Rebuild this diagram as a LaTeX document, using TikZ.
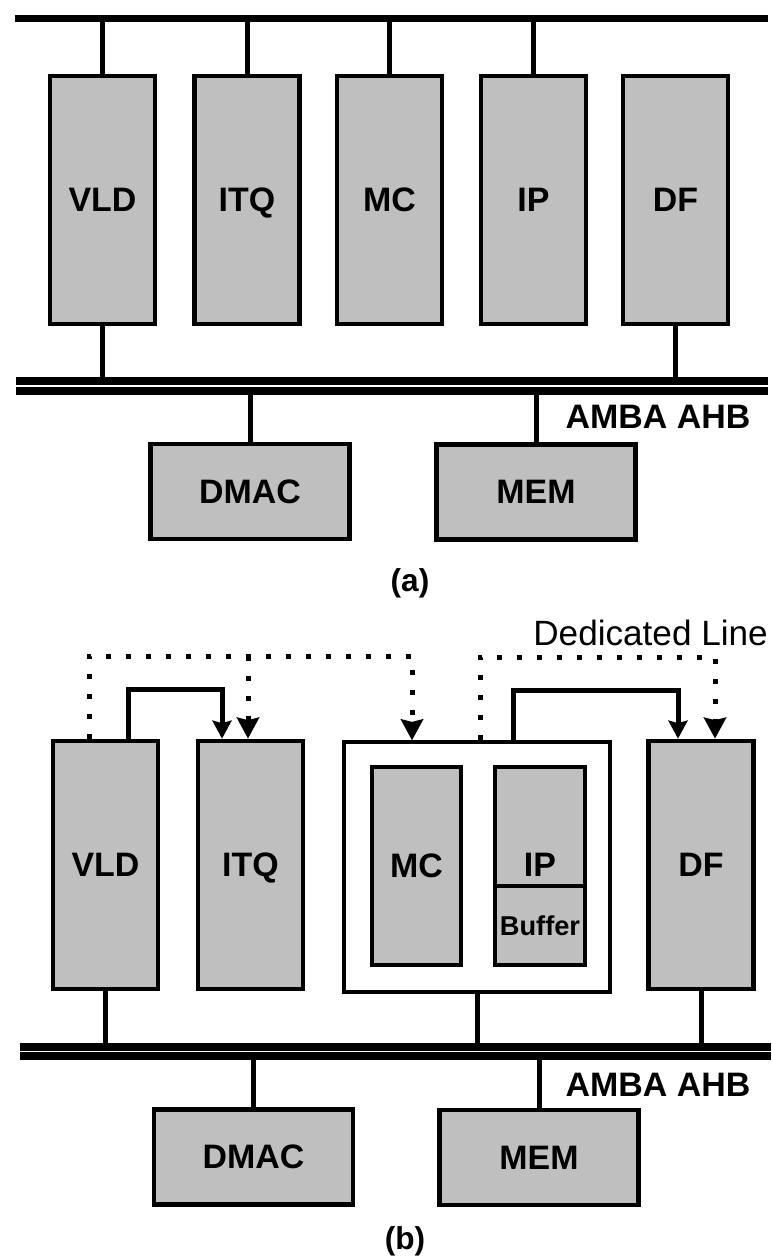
\documentclass[tikz,border=0pt]{standalone}
\usepackage{fontspec}
\setmainfont{Liberation Sans}
\usetikzlibrary{arrows.meta, positioning}

\begin{document}
\begin{tikzpicture}[x=0.02cm, y=-0.02cm,
    blk/.style={draw, line width=0.095cm, fill=black!25, minimum width=2.1cm, minimum height=4.96cm, inner sep=0pt, text depth=0pt, font=\fontsize{19.3}{20}\selectfont\bfseries},
    memblk/.style={blk, minimum width=3.98cm, minimum height=1.9cm},
    inblk/.style={blk, line width=0.07cm, minimum width=1.8cm},
    bus/.style={line width=0.16cm, double=white, double distance=0.03cm},
    topbus/.style={line width=0.14cm},
    stub/.style={line width=0.1cm},
    arr/.style={-{Stealth[length=0.36cm, width=0.38cm, inset=0.05cm]}, line width=0.1cm},
    dotarr/.style={-{Stealth[length=0.42cm, width=0.44cm, inset=0.05cm]}, line width=0.1cm, dash pattern=on 0.1cm off 0.3cm},
    lbl/.style={font=\fontsize{19.3}{20}\selectfont\bfseries, inner sep=0pt, text depth=0pt},
]
    \useasboundingbox (0,0) rectangle (771,1256);

    % (a) shared bus
    \node[blk] (vldA) at (102.5,200) {VLD};
    \node[blk] (itqA) at (247,200) {ITQ};
    \node[blk] (mcA) at (389.5,200) {MC};
    \node[blk] (ipA) at (533.5,200) {IP};
    \node[blk] (dfA) at (675.5,200) {DF};
    \node[memblk] (dmacA) at (250,491.5) {DMAC};
    \node[memblk] (memA) at (536,492) {MEM};

    \coordinate (topL) at (15,19);
    \coordinate (topR) at (768,19);
    \coordinate (busAL) at (16,386);
    \coordinate (busAR) at (768,386);

    \draw[stub] (vldA.north) -- (vldA.north |- topL);
    \draw[stub] (itqA.north) -- (itqA.north |- topL);
    \draw[stub] (mcA.north) -- (mcA.north |- topL);
    \draw[stub] (ipA.north) -- (ipA.north |- topL);
    \draw[topbus] (topL) -- (topR);

    \draw[stub] (vldA.south) -- (vldA.south |- busAL);
    \draw[stub] (dfA.south) -- (dfA.south |- busAL);
    \draw[stub] (dmacA.north) -- (dmacA.north |- busAL);
    \draw[stub] (memA.north) -- (memA.north |- busAL);
    \draw[bus] (busAL) -- (busAR);

    \node[lbl] (ambaA) at (658,417) {AMBA AHB};
    \node[lbl, font=\fontsize{18}{20}\selectfont\bfseries] (capA) at (410,580) {(a)};

    % (b) dedicated lines
    \node[blk] (vldB) at (105.5,865) {VLD};
    \node[blk] (itqB) at (250.5,865) {ITQ};
    \node[blk, fill=white, line width=0.065cm, minimum width=5.32cm, minimum height=5cm] (mpB) at (477,867) {};
    \node[inblk, minimum width=1.78cm, minimum height=3.96cm] (mcB) at (416.5,866) {MC};
    \node[inblk, minimum height=2.38cm] (ipB) at (540,826.5) {};
    \node[inblk, minimum height=1.58cm, font=\fontsize{15.5}{16}\selectfont\bfseries] (bufB) at (540,925.5) {Buffer};
    \node[lbl] (ipBl) at (540,865) {IP};
    \node[blk] (dfB) at (701,865) {DF};
    \node[memblk] (dmacB) at (253.5,1157) {DMAC};
    \node[memblk] (memB) at (539,1157.5) {MEM};

    \coordinate (busBL) at (20,1051.5);
    \coordinate (busBR) at (771,1051.5);
    \draw[stub] (vldB.south) -- (vldB.south |- busBL);
    \draw[stub] (mpB.south) -- (mpB.south |- busBL);
    \draw[stub] (dfB.south) -- (dfB.south |- busBL);
    \draw[stub] (dmacB.north) -- (dmacB.north |- busBL);
    \draw[stub] (memB.north) -- (memB.north |- busBL);
    \draw[bus] (busBL) -- (busBR);

    \coordinate (d1) at (89,656);
    \coordinate (d2) at (412,656);
    \coordinate (d3) at (248,656);
    \coordinate (d4) at (480,657);
    \coordinate (d5) at (715,657);
    \draw[dotarr] (vldB.north -| d1) -- (d1) -- (d2) -- (mpB.north -| d2);
    \draw[dotarr] (d3) -- (itqB.north -| d3);
    \draw[dotarr] (mpB.north -| d4) -- (d4) -- (d5) -- (dfB.north -| d5);

    \coordinate (s1) at (128,689);
    \coordinate (s2) at (222,689);
    \coordinate (s3) at (513,690);
    \coordinate (s4) at (678,690);
    \draw[arr] (vldB.north -| s1) -- (s1) -- (s2) -- (itqB.north -| s2);
    \draw[arr] (mpB.north -| s3) -- (s3) -- (s4) -- (dfB.north -| s4);

    \node[font=\fontsize{20}{22}\selectfont, anchor=west, inner sep=0pt] (dedl) at (533,633) {Dedicated Line};
    \node[lbl] (ambaB) at (658,1085) {AMBA AHB};
    \node[lbl, font=\fontsize{18}{20}\selectfont\bfseries] (capB) at (405,1238) {(b)};
\end{tikzpicture}
\end{document}
